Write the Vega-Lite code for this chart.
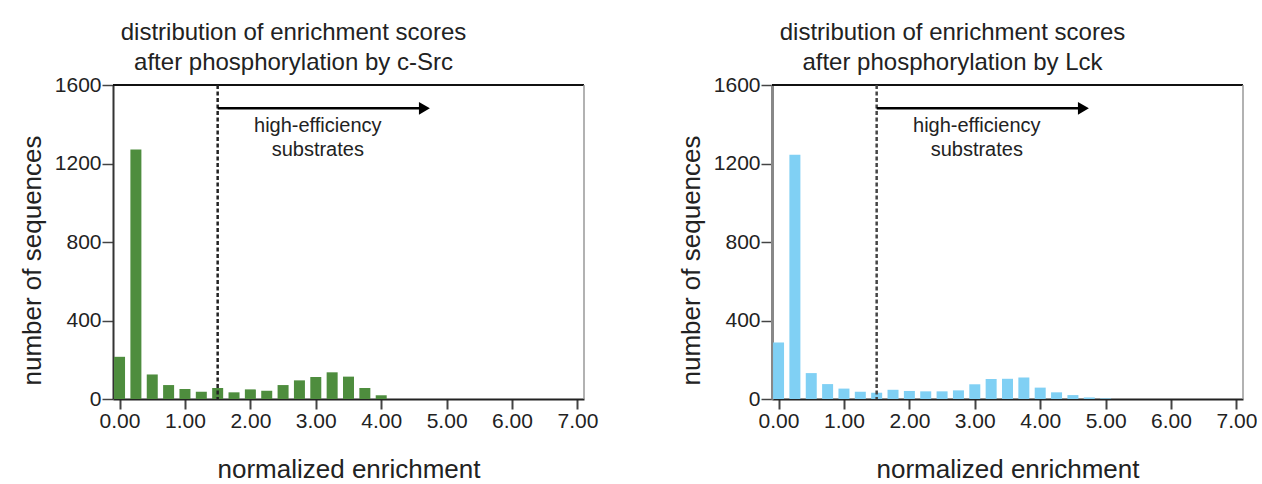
{
  "$schema": "https://vega.github.io/schema/vega-lite/v6.json",
  "padding": {"left": 19, "top": 21, "right": 0, "bottom": 0},
  "background": "white",
  "spacing": 80,
  "config": {
    "font": "Liberation Sans",
    "view": {"stroke": null},
    "axis": {"grid": false, "labelColor": "#222", "titleColor": "#222", "titleFontWeight": "normal", "tickColor": "#444", "domainColor": "#333", "labelFont": "Liberation Sans", "titleFont": "Liberation Sans"},
    "title": {"fontSize": 24, "fontWeight": "normal", "color": "#222", "lineHeight": 30, "offset": -1, "dx": -55, "anchor": "middle"}
  },
  "datasets": {
    "src": [
      {"x": 0, "n": 215}, {"x": 0.25, "n": 1271}, {"x": 0.5, "n": 125}, {"x": 0.75, "n": 71},
      {"x": 1.0, "n": 51}, {"x": 1.25, "n": 37}, {"x": 1.5, "n": 56}, {"x": 1.75, "n": 34},
      {"x": 2.0, "n": 49}, {"x": 2.25, "n": 42}, {"x": 2.5, "n": 71}, {"x": 2.75, "n": 95},
      {"x": 3.0, "n": 112}, {"x": 3.25, "n": 136}, {"x": 3.5, "n": 114}, {"x": 3.75, "n": 56},
      {"x": 4.0, "n": 19}
    ],
    "lck": [
      {"x": 0, "n": 288}, {"x": 0.25, "n": 1244}, {"x": 0.5, "n": 132}, {"x": 0.75, "n": 76},
      {"x": 1.0, "n": 53}, {"x": 1.25, "n": 37}, {"x": 1.5, "n": 32}, {"x": 1.75, "n": 47},
      {"x": 2.0, "n": 41}, {"x": 2.25, "n": 39}, {"x": 2.5, "n": 39}, {"x": 2.75, "n": 44},
      {"x": 3.0, "n": 75}, {"x": 3.25, "n": 102}, {"x": 3.5, "n": 103}, {"x": 3.75, "n": 110},
      {"x": 4.0, "n": 58}, {"x": 4.25, "n": 34}, {"x": 4.5, "n": 20}, {"x": 4.75, "n": 8},
      {"x": 5.0, "n": 3}
    ]
  },
  "hconcat": [
    {
      "width": 471, "height": 314,
      "title": {"text": ["distribution of enrichment scores", "after phosphorylation by c-Src"]},
      "layer": [
        {
          "data": {"name": "src"},
          "mark": {"type": "bar", "size": 11, "color": "#4e8d3e"},
          "encoding": {
            "x": {"field": "x", "type": "quantitative",
              "scale": {"domain": [-0.1, 7.1], "nice": false, "zero": false, "padding": 0},
              "axis": {"values": [0,1,2,3,4,5,6,7], "format": ".2f", "labelFontSize": 21, "tickSize": 10, "tickWidth": 2, "labelPadding": 1, "domainWidth": 2, "domainColor": "#222", "title": "normalized enrichment", "titleFontSize": 26, "titlePadding": 25}},
            "y": {"field": "n", "type": "quantitative",
              "scale": {"domain": [0, 1600], "nice": false, "padding": 0},
              "axis": {"values": [0,100,200,300,400,500,600,700,800,900,1000,1100,1200,1300,1400,1500,1600], "format": "d",
                "labelExpr": "datum.value % 400 === 0 ? datum.label : ''",
                "tickSize": {"condition": {"test": "datum.value % 400 === 0", "value": 11}, "value": 6},
                "tickWidth": 1.5, "labelFontSize": 21, "labelPadding": 1, "domainWidth": 2, "domainColor": "#333",
                "title": "number of sequences", "titleFontSize": 26, "titlePadding": 9, "titleY": 175}}
          }
        },
        {
          "data": {"values": [{}]},
          "mark": {"type": "rule", "color": "#111", "strokeWidth": 2},
          "encoding": {"y": {"datum": 1600}}
        },
        {
          "data": {"values": [{}]},
          "mark": {"type": "rule", "color": "#999", "strokeWidth": 1.5},
          "encoding": {"x": {"datum": 7.1}}
        },
        {
          "data": {"values": [{}]},
          "mark": {"type": "rule", "color": "#222", "strokeWidth": 2.5, "strokeDash": [4, 2.5]},
          "encoding": {"x": {"datum": 1.5}}
        },
        {
          "data": {"values": [{}]},
          "mark": {"type": "rule", "color": "#000", "strokeWidth": 2.5},
          "encoding": {"x": {"datum": 1.5}, "x2": {"datum": 4.58}, "y": {"datum": 1481}}
        },
        {
          "data": {"values": [{}]},
          "mark": {"type": "point", "shape": "triangle-right", "filled": true, "color": "#000", "opacity": 1, "size": 160},
          "encoding": {"x": {"datum": 4.66}, "y": {"datum": 1481}}
        },
        {
          "data": {"values": [{}]},
          "mark": {"type": "text", "fontSize": 20, "lineHeight": 24, "baseline": "top", "align": "center", "color": "#222"},
          "encoding": {"x": {"datum": 3.03}, "y": {"datum": 1440}, "text": {"value": ["high-efficiency", "substrates"]}}
        }
      ]
    },
    {
      "width": 471, "height": 314,
      "title": {"text": ["distribution of enrichment scores", "after phosphorylation by Lck"]},
      "layer": [
        {
          "data": {"name": "lck"},
          "mark": {"type": "bar", "size": 11, "color": "#80d0f4"},
          "encoding": {
            "x": {"field": "x", "type": "quantitative",
              "scale": {"domain": [-0.1, 7.1], "nice": false, "zero": false, "padding": 0},
              "axis": {"values": [0,1,2,3,4,5,6,7], "format": ".2f", "labelFontSize": 21, "tickSize": 10, "tickWidth": 2, "labelPadding": 1, "domainWidth": 2, "domainColor": "#222", "title": "normalized enrichment", "titleFontSize": 26, "titlePadding": 25}},
            "y": {"field": "n", "type": "quantitative",
              "scale": {"domain": [0, 1600], "nice": false, "padding": 0},
              "axis": {"values": [0,100,200,300,400,500,600,700,800,900,1000,1100,1200,1300,1400,1500,1600], "format": "d",
                "labelExpr": "datum.value % 400 === 0 ? datum.label : ''",
                "tickSize": {"condition": {"test": "datum.value % 400 === 0", "value": 11}, "value": 6},
                "tickWidth": 1.5, "labelFontSize": 21, "labelPadding": 1, "domainWidth": 3, "domainColor": "#888",
                "title": "number of sequences", "titleFontSize": 26, "titlePadding": 9, "titleY": 175}}
          }
        },
        {
          "data": {"values": [{}]},
          "mark": {"type": "rule", "color": "#111", "strokeWidth": 2},
          "encoding": {"y": {"datum": 1600}}
        },
        {
          "data": {"values": [{}]},
          "mark": {"type": "rule", "color": "#999", "strokeWidth": 1.5},
          "encoding": {"x": {"datum": 7.1}}
        },
        {
          "data": {"values": [{}]},
          "mark": {"type": "rule", "color": "#444", "strokeWidth": 2.5, "strokeDash": [4, 2.5]},
          "encoding": {"x": {"datum": 1.5}}
        },
        {
          "data": {"values": [{}]},
          "mark": {"type": "rule", "color": "#000", "strokeWidth": 2.5},
          "encoding": {"x": {"datum": 1.5}, "x2": {"datum": 4.58}, "y": {"datum": 1481}}
        },
        {
          "data": {"values": [{}]},
          "mark": {"type": "point", "shape": "triangle-right", "filled": true, "color": "#000", "opacity": 1, "size": 160},
          "encoding": {"x": {"datum": 4.66}, "y": {"datum": 1481}}
        },
        {
          "data": {"values": [{}]},
          "mark": {"type": "text", "fontSize": 20, "lineHeight": 24, "baseline": "top", "align": "center", "color": "#222"},
          "encoding": {"x": {"datum": 3.03}, "y": {"datum": 1440}, "text": {"value": ["high-efficiency", "substrates"]}}
        }
      ]
    }
  ]
}
